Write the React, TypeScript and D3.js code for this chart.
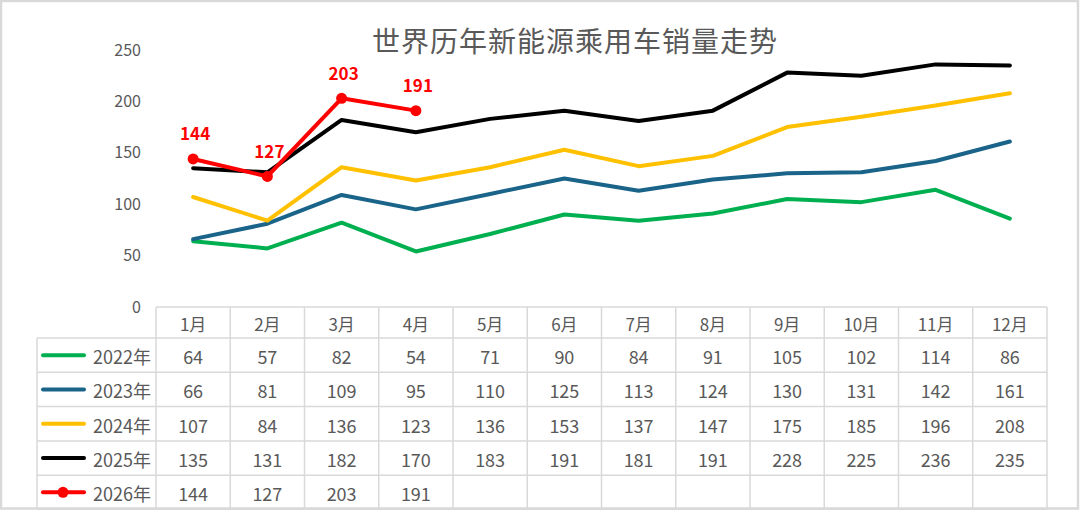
import React, { useEffect, useRef } from "react";
import * as d3 from "d3";

const months = ["1月", "2月", "3月", "4月", "5月", "6月", "7月", "8月", "9月", "10月", "11月", "12月"];
const years = ["2022年", "2023年", "2024年", "2025年", "2026年"];

const sales2022 = [64, 57, 82, 54, 71, 90, 84, 91, 105, 102, 114, 86];
const sales2023 = [66, 81, 109, 95, 110, 125, 113, 124, 130, 131, 142, 161];
const sales2024 = [107, 84, 136, 123, 136, 153, 137, 147, 175, 185, 196, 208];
const sales2025 = [135, 131, 182, 170, 183, 191, 181, 191, 228, 225, 236, 235];
const sales2026 = [144, 127, 203, 191];

const yTicks = [0, 50, 100, 150, 200, 250];
const title = "世界历年新能源乘用车销量走势";

const colors = ["#00b050", "#1b6489", "#ffc000", "#000000", "#ff0000"];

const width = 1080;
const height = 510;
const tableLeft = 156;
const tableRight = 1047;
const legendLeft = 37;
const axisTop = 50;
const axisBottom = 307;
const headerH = 31;
const rowH = 34.3;
const textColor = "#595959";
const gridColor = "#d9d9d9";
const font = "'Noto Sans CJK SC', 'Noto Sans', sans-serif";

export default function App() {
  const holderRef = useRef<SVGSVGElement | null>(null);

  useEffect(() => {
    const svgEl = holderRef.current;
    if (!svgEl || svgEl.hasChildNodes()) return;

    const series = [sales2022, sales2023, sales2024, sales2025, sales2026];

    const x = d3.scaleBand().domain(months).range([tableLeft, tableRight]).padding(0);
    const cx = (i: number) => (x(months[i]) as number) + x.bandwidth() / 2;
    const y = d3.scaleLinear().domain([0, 250]).range([axisBottom, axisTop]);

    const svg = d3.select(svgEl).style("font-family", font);

    svg.append("rect").attr("width", width).attr("height", height).attr("fill", "#fff");

    // title
    svg
      .append("text")
      .attr("x", 575)
      .attr("y", 40)
      .attr("text-anchor", "middle")
      .attr("dominant-baseline", "central")
      .attr("font-size", 28)
      .attr("letter-spacing", 1)
      .attr("fill", textColor)
      .text(title);

    // y axis, labels only
    const yAxis = svg
      .append("g")
      .attr("transform", `translate(141,0)`)
      .call(d3.axisLeft(y).tickValues(yTicks).tickSize(0).tickPadding(0));
    yAxis.select(".domain").remove();
    yAxis
      .selectAll("text")
      .attr("font-size", 16)
      .attr("font-family", font)
      .attr("fill", textColor);

    // lines
    const line = d3
      .line<number>()
      .x((_, i) => cx(i))
      .y((d) => y(d));

    series.forEach((s, k) => {
      svg
        .append("path")
        .datum(s)
        .attr("d", line)
        .attr("fill", "none")
        .attr("stroke", colors[k])
        .attr("stroke-width", 4)
        .attr("stroke-linejoin", "round")
        .attr("stroke-linecap", "round");
    });

    // 2026 markers + labels
    svg
      .selectAll("circle.m")
      .data(sales2026)
      .enter()
      .append("circle")
      .attr("cx", (_, i) => cx(i))
      .attr("cy", (d) => y(d))
      .attr("r", 5.5)
      .attr("fill", colors[4]);

    svg
      .selectAll("text.lbl")
      .data(sales2026)
      .enter()
      .append("text")
      .attr("x", (_, i) => cx(i) + 2)
      .attr("y", (d) => y(d) - 26)
      .attr("text-anchor", "middle")
      .attr("dominant-baseline", "central")
      .attr("font-size", 17)
      .attr("font-weight", "bold")
      .attr("fill", colors[4])
      .text((d) => d);

    // data table
    const tbl = svg.append("g");
    const bodyTop = axisBottom + headerH;
    const tableBottom = bodyTop + rowH * years.length;

    // horizontal lines
    tbl
      .append("line")
      .attr("x1", tableLeft)
      .attr("x2", tableRight)
      .attr("y1", axisBottom)
      .attr("y2", axisBottom);
    d3.range(years.length + 1).forEach((r) => {
      tbl
        .append("line")
        .attr("x1", legendLeft)
        .attr("x2", tableRight)
        .attr("y1", bodyTop + r * rowH)
        .attr("y2", bodyTop + r * rowH);
    });
    // vertical lines
    tbl
      .append("line")
      .attr("x1", legendLeft)
      .attr("x2", legendLeft)
      .attr("y1", bodyTop)
      .attr("y2", tableBottom);
    d3.range(months.length + 1).forEach((c) => {
      const xx = tableLeft + c * x.bandwidth();
      tbl.append("line").attr("x1", xx).attr("x2", xx).attr("y1", axisBottom).attr("y2", tableBottom);
    });
    tbl.selectAll("line").attr("stroke", gridColor).attr("stroke-width", 1.5);

    // header
    months.forEach((m, i) => {
      tbl
        .append("text")
        .attr("x", cx(i))
        .attr("y", axisBottom + headerH / 2 + 1)
        .attr("text-anchor", "middle")
        .attr("dominant-baseline", "central")
        .attr("font-size", 17)
        .attr("fill", textColor)
        .text(m);
    });

    // rows
    series.forEach((s, k) => {
      const rowMid = bodyTop + k * rowH + rowH / 2 + 1;
      tbl
        .append("line")
        .attr("x1", 43)
        .attr("x2", 84)
        .attr("y1", rowMid - 1)
        .attr("y2", rowMid - 1)
        .attr("stroke", colors[k])
        .attr("stroke-width", 4)
        .attr("stroke-linecap", "round");
      if (k === 4) {
        tbl.append("circle").attr("cx", 63).attr("cy", rowMid - 1).attr("r", 5.5).attr("fill", colors[k]);
      }
      tbl
        .append("text")
        .attr("x", 151)
        .attr("y", rowMid)
        .attr("text-anchor", "end")
        .attr("dominant-baseline", "central")
        .attr("font-size", 18)
        .attr("fill", textColor)
        .text(years[k]);
      s.forEach((v, i) => {
        tbl
          .append("text")
          .attr("x", cx(i))
          .attr("y", rowMid)
          .attr("text-anchor", "middle")
          .attr("dominant-baseline", "central")
          .attr("font-size", 18)
          .attr("fill", textColor)
          .text(v);
      });
    });

    // outer frame
    svg
      .append("rect")
      .attr("x", 1)
      .attr("y", 1)
      .attr("width", 1077)
      .attr("height", 507.5)
      .attr("fill", "none")
      .attr("stroke", gridColor)
      .attr("stroke-width", 2.5);
  }, []);

  return (
    <svg
      ref={holderRef}
      width={width}
      height={height}
      style={{ position: "absolute", left: 0, top: 0, display: "block" }}
    />
  );
}
